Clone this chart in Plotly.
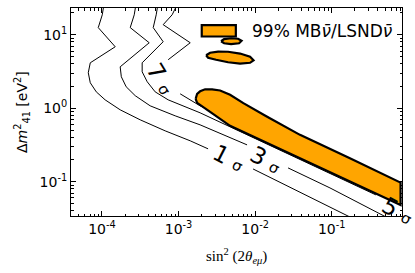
import plotly.graph_objects as go

# ---- data (x = sin^2(2theta_emu), y = dm^2_41 [eV^2]) ----
# contour lines; None marks the break where the inline label sits
sig1_x = [1.07e-4, 1.01e-4, 8.95e-5, 1.49e-4, 7.04e-5, 6.63e-5, 7.04e-5, 8.43e-5, 1.10e-4,
          1.73e-4, 3.16e-4, 6.69e-4, 1.42e-3, 2.43e-3, None, 9.39e-3, 3.85e-2, 0.183]
sig1_y = [27.3, 18.7, 12.5, 6.86, 4.15, 3.04, 2.22, 1.67, 1.30,
          0.951, 0.695, 0.492, 0.360, 0.280, None, 0.149, 0.0726, 0.0321]

sig3_x = [2.80e-4, 2.64e-4, 2.34e-4, 4.14e-4, 1.73e-4, 1.79e-4, 2.07e-4, 2.72e-4, 4.26e-4,
          9.03e-4, 1.91e-3, 4.05e-3, 7.84e-3, None, 2.69e-2, 9.47e-2, 0.540]
sig3_y = [27.3, 18.7, 12.5, 7.78, 3.66, 2.68, 1.96, 1.48, 1.078,
          0.788, 0.594, 0.421, 0.317, None, 0.154, 0.0823, 0.0321]

sig5_x = [5.42e-4, 5.11e-4, 4.67e-4, 6.30e-4, 3.35e-4, 3.35e-4, 3.90e-4, 4.95e-4, 7.32e-4,
          1.22e-3, 1.91e-3, 4.71e-3, 1.16e-2, 3.85e-2, 0.128, 0.377]
sig5_y = [27.3, 18.7, 12.5, 8.03, 4.15, 3.13, 2.29, 1.67, 1.30,
          1.045, 0.866, 0.558, 0.360, 0.198, 0.113, 0.0661]

sig7_x = [9.88e-4, 8.25e-4, 6.30e-4, 1.42e-3, 7.32e-4, None, 1.05e-3, 1.91e-3, 3.0e-3]
sig7_y = [27.3, 18.7, 13.7, 7.78, 4.57, None, 1.57, 1.078, 0.866]

# 99% MB/LSND allowed regions (closed outlines)
band_x = [1.671e-3, 1.748e-3, 1.912e-3, 2.222e-3, 2.742e-3, 3.486e-3, 4.707e-3, 7.017e-3,
          1.416e-2, 3.849e-2, 0.1727, 0.791, 0.791, 0.1727, 3.849e-2, 1.416e-2, 4.707e-3,
          2.582e-3, 1.912e-3, 1.748e-3, 1.671e-3]
band_y = [1.343, 1.571, 1.699, 1.809, 1.809, 1.742, 1.523, 1.174,
          0.7706, 0.4342, 0.2077, 0.0972, 0.0483, 0.1009, 0.2077, 0.3378, 0.5756,
          0.8933, 1.095, 1.185, 1.343]

isle1_x = [2.291e-3, 2.582e-3, 3.283e-3, 4.432e-3, 6.355e-3, 8.58e-3, 9.53e-3, 8.58e-3,
           6.355e-3, 4.432e-3, 3.093e-3, 2.431e-3, 2.291e-3]
isle1_y = [5.257, 5.685, 5.903, 5.866, 5.545, 5.015, 4.494, 4.154,
           4.052, 4.220, 4.565, 4.861, 5.257]

isle2_x = [3.592e-3, 3.931e-3, 4.851e-3, 5.985e-3, 6.648e-3, 6.167e-3, 4.851e-3, 3.931e-3, 3.592e-3]
isle2_y = [8.154, 8.738, 8.962, 8.822, 8.284, 7.658, 7.468, 7.658, 8.154]

contour_names = ["1", "3", "5", "7"]
x_tick_vals = [1e-4, 1e-3, 1e-2, 1e-1]
x_tick_labels = ["10<sup>-4</sup>", "10<sup>-3</sup>", "10<sup>-2</sup>", "10<sup>-1</sup>"]
y_tick_vals = [1e-1, 1e0, 1e1]
y_tick_labels = ["10<sup>-1</sup>", "10<sup>0</sup>", "10<sup>1</sup>"]
legend_label = "99% MB<i>ν̄</i>/LSND<i>ν̄</i>"

ORANGE = "#FFA500"

fig = go.Figure()
for cx, cy in [(sig1_x, sig1_y), (sig3_x, sig3_y), (sig5_x, sig5_y), (sig7_x, sig7_y)]:
    fig.add_trace(go.Scatter(x=cx, y=cy, mode="lines", connectgaps=False,
                             line=dict(color="black", width=1), hoverinfo="skip"))

for rx, ry in [(band_x, band_y), (isle1_x, isle1_y), (isle2_x, isle2_y)]:
    fig.add_trace(go.Scatter(x=rx, y=ry, mode="lines", fill="toself", fillcolor=ORANGE,
                             line=dict(color="black", width=2.2), hoverinfo="skip"))

minor_x = [k * 10.0 ** d for d in range(-5, 1) for k in range(2, 10)]
minor_y = [k * 10.0 ** d for d in range(-2, 2) for k in range(2, 10)]

axis_common = dict(type="log", ticks="inside", ticklen=5, tickwidth=1, tickcolor="black",
                   showline=True, linecolor="black", linewidth=1, mirror="ticks",
                   showgrid=False, zeroline=False,
                   tickfont=dict(family="DejaVu Sans", size=14, color="black"))

fig.update_xaxes(range=[-4.404, -0.083], tickmode="array", tickvals=x_tick_vals,
                 ticktext=x_tick_labels,
                 minor=dict(tickvals=minor_x, ticks="inside", ticklen=2.5,
                            tickcolor="black", showgrid=False),
                 **axis_common)
fig.update_yaxes(range=[-1.467, 1.364], tickmode="array", tickvals=y_tick_vals,
                 ticktext=y_tick_labels,
                 minor=dict(tickvals=minor_y, ticks="inside", ticklen=2.5,
                            tickcolor="black", showgrid=False),
                 **axis_common)

# contour labels (paper coords)
lab_font = dict(family="DejaVu Sans", size=23, color="black")
labels = [("7", 0.272, 0.659, 59), ("1", 0.477, 0.279, 27),
          ("3", 0.589, 0.269, 28), ("5", 0.988, 0.024, 28)]
anns = []
for txt, ax_, ay_, ang in labels:
    anns.append(dict(text=txt + " <span style='font-size:15px'>σ</span>", x=ax_, y=ay_,
                     xref="paper", yref="paper", showarrow=False, textangle=ang,
                     font=lab_font, xanchor="center", yanchor="middle"))

# legend text
anns.append(dict(text=legend_label, x=0.541, y=0.889, xref="paper", yref="paper",
                 showarrow=False, xanchor="left", yanchor="middle",
                 font=dict(family="DejaVu Sans", size=17, color="black")))
# axis titles
anns.append(dict(text="Δ<i>m</i><sup>2</sup><sub>41</sub> [eV<sup>2</sup>]", x=-0.148, y=0.5,
                 xref="paper", yref="paper", showarrow=False, textangle=-90,
                 xanchor="center", yanchor="middle",
                 font=dict(family="DejaVu Sans", size=14, color="black")))
anns.append(dict(text="sin<sup>2</sup> (2<i>θ</i><sub><i>eμ</i></sub>)", x=0.5, y=-0.19,
                 xref="paper", yref="paper", showarrow=False,
                 xanchor="center", yanchor="middle",
                 font=dict(family="Liberation Serif", size=15, color="black")))

fig.update_layout(
    width=415, height=273,
    margin=dict(l=71, r=13, t=8, b=57),
    plot_bgcolor="white", paper_bgcolor="white",
    showlegend=False,
    annotations=anns,
    shapes=[dict(type="rect", xref="paper", yref="paper", x0=0.395, x1=0.498,
                 y0=0.863, y1=0.918, fillcolor=ORANGE,
                 line=dict(color="black", width=2.2))],
)

fig.write_html("out.html",
               config={"displayModeBar": False, "staticPlot": True},
               post_script="document.body.style.margin='0px';document.body.style.overflow='hidden';")
